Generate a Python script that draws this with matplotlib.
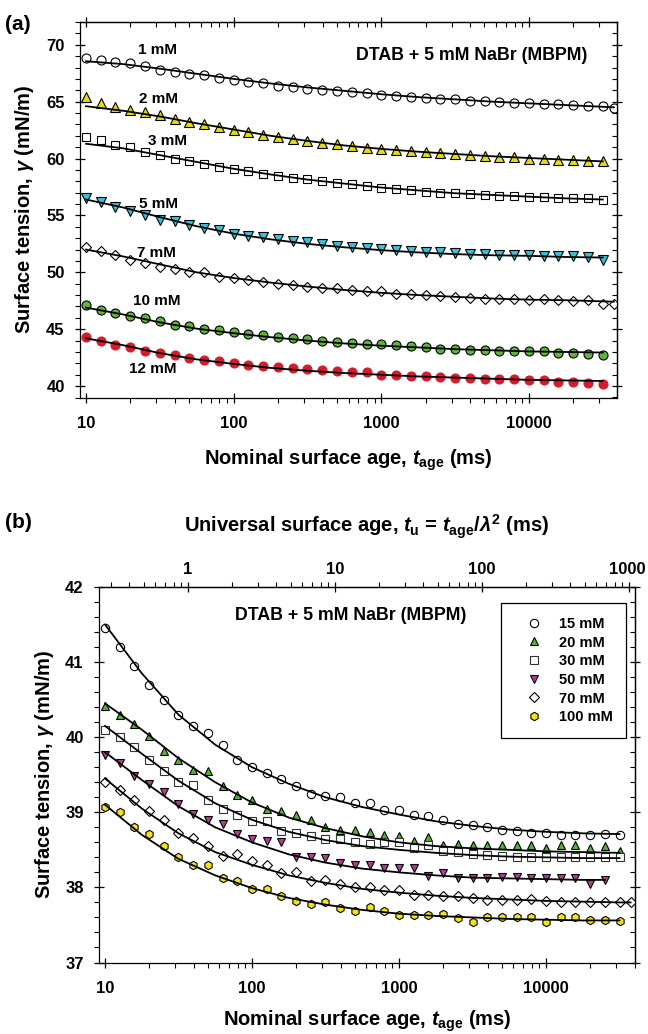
import matplotlib
matplotlib.use('Agg')
import matplotlib.pyplot as plt
from matplotlib.lines import Line2D
from matplotlib.ticker import (FuncFormatter, MultipleLocator, LogLocator,
                               NullFormatter, FixedLocator)

plt.rcParams['font.family'] = ['Liberation Sans', 'DejaVu Sans']
plt.rcParams['font.weight'] = 'bold'
plt.rcParams['mathtext.fontset'] = 'custom'
plt.rcParams['mathtext.rm'] = 'Liberation Sans:bold'
plt.rcParams['mathtext.it'] = 'Liberation Sans:italic:bold'
plt.rcParams['mathtext.bf'] = 'Liberation Sans:bold'
plt.rcParams['axes.linewidth'] = 0.9

# ---------------- data ----------------
t_age = [10, 12.6, 15.8, 20.0, 25.1, 31.6, 39.8, 50.1, 63.1, 79.4,
         100, 126, 158, 200, 251, 316, 398, 501, 631, 794,
         1000, 1259, 1585, 1995, 2512, 3162, 3981, 5012, 6310, 7943,
         10000, 12589, 15849, 19953, 25119, 31623]
t_age_long = t_age + [37600]
t_age_short = t_age[:-1]

fit_t = [10, 17.8, 31.6, 56.2, 100, 178, 316, 562, 1000, 1778, 3162, 5623, 10000, 17783, 31623]
fit_t_long = fit_t + [37600]
fit_t_short = fit_t[:-1] + [25119]

# panel (a): DTAB + 5 mM NaBr, low concentrations
a_labels = ['1 mM', '2 mM', '3 mM', '5 mM', '7 mM', '10 mM', '12 mM']
g_1mM = [68.8, 68.7, 68.5, 68.4, 68.1, 67.8, 67.6, 67.45, 67.3, 67.1,
         66.9, 66.75, 66.6, 66.4, 66.3, 66.1, 66.05, 65.95, 65.85, 65.75,
         65.6, 65.5, 65.45, 65.35, 65.25, 65.2, 65.1, 65.05, 65.0, 64.9,
         64.85, 64.8, 64.75, 64.7, 64.65, 64.6, 64.45]
g_2mM = [65.4, 64.9, 64.55, 64.3, 64.1, 63.8, 63.5, 63.25, 63.0, 62.75,
         62.55, 62.3, 62.1, 61.9, 61.7, 61.55, 61.4, 61.25, 61.1, 60.95,
         60.85, 60.75, 60.65, 60.55, 60.45, 60.4, 60.3, 60.25, 60.15, 60.1,
         60.0, 59.95, 59.9, 59.85, 59.8, 59.75]
g_3mM = [61.9, 61.6, 61.2, 61.0, 60.6, 60.3, 60.0, 59.8, 59.5, 59.3,
         59.1, 58.9, 58.6, 58.5, 58.3, 58.2, 58.0, 57.85, 57.75, 57.6,
         57.45, 57.3, 57.2, 57.1, 57.0, 56.95, 56.85, 56.8, 56.75, 56.7,
         56.65, 56.6, 56.55, 56.5, 56.5, 56.4]
g_5mM = [56.5, 56.2, 55.7, 55.4, 55.0, 54.6, 54.5, 54.2, 53.9, 53.7,
         53.4, 53.2, 53.1, 52.9, 52.75, 52.65, 52.5, 52.35, 52.25, 52.15,
         52.05, 51.95, 51.9, 51.8, 51.75, 51.7, 51.65, 51.6, 51.55, 51.5,
         51.5, 51.45, 51.4, 51.4, 51.35, 51.1]
g_7mM = [52.2, 51.9, 51.5, 51.1, 50.8, 50.5, 50.3, 50.05, 50.0, 49.6,
         49.5, 49.3, 49.15, 49.0, 48.85, 48.75, 48.65, 48.6, 48.45, 48.4,
         48.35, 48.1, 48.1, 48.0, 47.95, 47.85, 47.75, 47.7, 47.65, 47.65,
         47.6, 47.65, 47.55, 47.5, 47.55, 47.2, 47.2]
g_10mM = [47.1, 46.7, 46.45, 46.15, 45.95, 45.7, 45.4, 45.3, 45.0, 44.9,
          44.75, 44.6, 44.5, 44.3, 44.2, 44.1, 43.95, 43.85, 43.8, 43.7,
          43.7, 43.6, 43.5, 43.45, 43.3, 43.3, 43.2, 43.2, 43.1, 43.1,
          43.1, 43.05, 42.95, 42.9, 42.85, 42.75]
g_12mM = [44.3, 44.0, 43.6, 43.4, 43.1, 42.9, 42.7, 42.5, 42.3, 42.2,
          42.0, 41.9, 41.8, 41.7, 41.6, 41.5, 41.4, 41.35, 41.25, 41.2,
          41.0, 40.95, 40.9, 40.85, 40.8, 40.7, 40.7, 40.65, 40.6, 40.6,
          40.5, 40.5, 40.4, 40.4, 40.3, 40.2]

fit_1mM = [68.55, 68.3, 67.9, 67.45, 67.0, 66.6, 66.25, 65.95, 65.65, 65.4, 65.2, 65.0, 64.85, 64.7, 64.55, 64.5]
fit_2mM = [64.6, 64.2, 63.7, 63.1, 62.55, 62.0, 61.55, 61.15, 60.85, 60.6, 60.4, 60.2, 60.05, 59.9, 59.75]
fit_3mM = [61.3, 60.9, 60.3, 59.7, 59.1, 58.6, 58.15, 57.8, 57.45, 57.2, 56.95, 56.8, 56.65, 56.5, 56.4]
fit_5mM = [56.4, 55.7, 54.85, 54.05, 53.4, 52.9, 52.5, 52.2, 51.95, 51.75, 51.6, 51.5, 51.45, 51.35, 51.3]
fit_7mM = [52.0, 51.4, 50.7, 50.0, 49.5, 49.1, 48.75, 48.45, 48.2, 48.0, 47.85, 47.7, 47.6, 47.55, 47.45, 47.42]
fit_10mM = [46.9, 46.3, 45.6, 45.05, 44.65, 44.3, 44.0, 43.75, 43.55, 43.4, 43.25, 43.15, 43.05, 43.0, 42.95]
fit_12mM = [44.2, 43.6, 42.9, 42.35, 41.95, 41.6, 41.35, 41.15, 41.0, 40.85, 40.75, 40.65, 40.55, 40.5, 40.45]

# panel (b): high concentrations
b_labels = ['15 mM', '20 mM', '30 mM', '50 mM', '70 mM', '100 mM']
g_15mM = [41.45, 41.2, 40.95, 40.7, 40.5, 40.3, 40.15, 40.05, 39.9, 39.7,
          39.6, 39.52, 39.45, 39.35, 39.25, 39.22, 39.2, 39.12, 39.12, 39.03,
          39.03, 38.97, 38.95, 38.9, 38.85, 38.83, 38.8, 38.77, 38.75, 38.73,
          38.72, 38.7, 38.7, 38.7, 38.71, 38.7]
g_20mM = [40.41, 40.3, 40.17, 40.01, 39.82, 39.7, 39.56, 39.55, 39.35, 39.23,
          39.17, 39.05, 39.02, 38.96, 38.9, 38.8, 38.76, 38.77, 38.74, 38.7,
          38.68, 38.62, 38.67, 38.57, 38.58, 38.56, 38.57, 38.56, 38.57, 38.57,
          38.53, 38.57, 38.56, 38.53, 38.55, 38.48]
g_30mM = [40.09, 40.0, 39.87, 39.7, 39.55, 39.4, 39.37, 39.17, 39.05, 38.97,
          38.88, 38.88, 38.75, 38.72, 38.68, 38.64, 38.64, 38.6, 38.58, 38.6,
          38.6, 38.53, 38.56, 38.49, 38.47, 38.45, 38.43, 38.42, 38.4, 38.4,
          38.4, 38.4, 38.4, 38.4, 38.4, 38.4]
g_50mM = [39.76, 39.65, 39.49, 39.38, 39.27, 39.11, 38.98, 38.9, 38.84, 38.71,
          38.65, 38.62, 38.6, 38.4, 38.4, 38.39, 38.33, 38.3, 38.3, 38.26,
          38.26, 38.26, 38.15, 38.19, 38.13, 38.13, 38.13, 38.14, 38.14, 38.13,
          38.13, 38.13, 38.13, 38.04, 38.1]
g_70mM = [39.4, 39.3, 39.17, 39.02, 38.9, 38.73, 38.66, 38.55, 38.42, 38.45,
          38.35, 38.3, 38.19, 38.2, 38.08, 38.1, 38.04, 38.0, 38.0, 37.96,
          37.96, 37.9, 37.9, 37.89, 37.89, 37.86, 37.83, 37.83, 37.83, 37.85,
          37.82, 37.81, 37.81, 37.81, 37.8, 37.8, 37.8]
g_100mM = [39.07, 39.0, 38.8, 38.71, 38.55, 38.4, 38.3, 38.3, 38.13, 38.08,
           37.98, 37.98, 37.88, 37.82, 37.78, 37.8, 37.73, 37.69, 37.74, 37.69,
           37.63, 37.63, 37.63, 37.65, 37.59, 37.54, 37.6, 37.6, 37.6, 37.6,
           37.54, 37.61, 37.61, 37.57, 37.57, 37.55]

fit_15mM = [41.5, 40.85, 40.3, 39.9, 39.6, 39.38, 39.2, 39.07, 38.97, 38.88, 38.82, 38.77, 38.74, 38.72, 38.71]
fit_20mM = [40.45, 40.1, 39.72, 39.4, 39.13, 38.93, 38.79, 38.68, 38.6, 38.55, 38.52, 38.5, 38.48, 38.47, 38.46]
fit_30mM = [40.15, 39.78, 39.42, 39.12, 38.9, 38.74, 38.63, 38.55, 38.5, 38.46, 38.43, 38.41, 38.4, 38.39, 38.39]
fit_50mM = [39.8, 39.43, 39.08, 38.8, 38.6, 38.44, 38.33, 38.25, 38.2, 38.16, 38.13, 38.12, 38.11, 38.1, 38.1]
fit_70mM = [39.45, 39.05, 38.72, 38.47, 38.3, 38.16, 38.06, 37.98, 37.93, 37.89, 37.86, 37.84, 37.82, 37.81, 37.8, 37.8]
fit_100mM = [39.1, 38.7, 38.38, 38.16, 37.99, 37.86, 37.77, 37.7, 37.65, 37.62, 37.6, 37.58, 37.57, 37.56, 37.56]

top_ticks_b = [1, 10, 100, 1000]
lambda_sq = 36.6  # t_u = t_age / lambda^2

# ---------------- figure ----------------
W, H = 648, 1034
fig = plt.figure(figsize=(W / 100, H / 100), dpi=100)


def px_axes(l, t, r, b):
    return fig.add_axes([l / W, 1 - b / H, (r - l) / W, (b - t) / H])


fmt = FuncFormatter(lambda v, p: f'{v:g}')
TL = 12
LBL = 14.5


def style_axes(ax, ymaj, ymin):
    ax.set_xscale('log')
    ax.xaxis.set_major_locator(LogLocator(base=10, numticks=10))
    ax.xaxis.set_minor_locator(LogLocator(base=10, subs=range(2, 10), numticks=20))
    ax.xaxis.set_major_formatter(fmt)
    ax.xaxis.set_minor_formatter(NullFormatter())
    ax.yaxis.set_major_locator(MultipleLocator(ymaj))
    ax.yaxis.set_minor_locator(MultipleLocator(ymin))
    ax.tick_params(which='major', direction='inout', length=7, width=0.9,
                   labelsize=TL, top=False, right=False)
    ax.tick_params(axis='x', which='major', pad=9.5)
    ax.tick_params(axis='y', which='major', pad=7.5)
    ax.tick_params(which='minor', direction='out', length=3.5, width=0.8,
                   top=False, right=False)


mk_kw = dict(markeredgewidth=0.8, linestyle='none', zorder=2)
ln_kw = dict(color='black', linewidth=1.3, zorder=3)

# ---- panel (a) ----
axA = px_axes(80, 22, 617, 397.5)
style_axes(axA, 5, 1)
axA.set_xlim(9.1, 39500)
axA.set_ylim(39, 72)

a_series = [
    (t_age_long, g_1mM, fit_t_long, fit_1mM, 'o', 'white', 'black', 6.5),
    (t_age, g_2mM, fit_t, fit_2mM, '^', '#e4dc10', 'black', 6.5),
    (t_age, g_3mM, fit_t, fit_3mM, 's', 'white', 'black', 6.0),
    (t_age, g_5mM, fit_t, fit_5mM, 'v', '#3fbfd6', 'black', 6.5),
    (t_age_long, g_7mM, fit_t_long, fit_7mM, 'D', 'white', 'black', 5.5),
    (t_age, g_10mM, fit_t, fit_10mM, 'o', '#62b23e', 'black', 6.5),
    (t_age, g_12mM, fit_t, fit_12mM, 'o', '#d41c2c', '#d41c2c', 6.5),
]
for x, y, fx, fy, m, fc, ec, ms in a_series:
    axA.plot(x, y, marker=m, markerfacecolor=fc, markeredgecolor=ec, markersize=ms, **mk_kw)
    axA.plot(fx, fy, **ln_kw)

a_label_pos = [(22.5, 69.5), (22.8, 65.2), (26.3, 61.5), (23.0, 56.0), (22.0, 51.7), (20.8, 47.5), (19.5, 41.5)]
for lab, (lx, ly) in zip(a_labels, a_label_pos):
    axA.text(lx, ly, lab, fontsize=11, fontweight='bold', ha='left', va='center', zorder=5)

axA.text(587 / W, 1 - 55 / H, 'DTAB + 5 mM NaBr (MBPM)', transform=fig.transFigure,
         fontsize=12.8, fontweight='bold', ha='right', va='center')
axA.set_xlabel(r'Nominal surface age, $t_{\mathrm{age}}$ (ms)', fontsize=LBL, fontweight='bold', labelpad=12)
axA.set_ylabel(r'Surface tension, $\gamma$ (mN/m)', fontsize=LBL, fontweight='bold', labelpad=7)

# top / right duplicates for panel (a)
axA_top = axA.secondary_xaxis('top', functions=(lambda v: v, lambda v: v))
axA_top.xaxis.set_major_locator(LogLocator(base=10, numticks=10))
axA_top.xaxis.set_minor_locator(LogLocator(base=10, subs=range(2, 10), numticks=20))
axA_top.tick_params(which='major', direction='inout', length=7, width=0.9, labeltop=False)
axA_top.tick_params(which='minor', direction='in', length=3.5, width=0.8)
axA_top.xaxis.set_major_formatter(NullFormatter())
axA_top.xaxis.set_minor_formatter(NullFormatter())
axA_right = axA.secondary_yaxis('right', functions=(lambda v: v, lambda v: v))
axA_right.yaxis.set_major_locator(MultipleLocator(5))
axA_right.yaxis.set_minor_locator(MultipleLocator(1))
axA_right.tick_params(which='major', direction='inout', length=7, width=0.9, labelright=False)
axA_right.tick_params(which='minor', direction='in', length=3.5, width=0.8)

fig.text(5 / W, 1 - 24 / H, '(a)', fontsize=15, fontweight='bold', ha='left', va='center')

# ---- panel (b) ----
axB = px_axes(99, 587, 635, 962.5)
style_axes(axB, 1, 0.2)
axB.set_xlim(9.1, 40300)
axB.set_ylim(37, 42)

b_series = [
    (t_age, g_15mM, fit_t, fit_15mM, 'o', 'white', 'black', 6.0),
    (t_age, g_20mM, fit_t, fit_20mM, '^', '#56b432', 'black', 6.0),
    (t_age, g_30mM, fit_t, fit_30mM, 's', 'white', '#333333', 5.5),
    (t_age_short, g_50mM, fit_t_short, fit_50mM, 'v', '#b23e8e', 'black', 6.0),
    (t_age_long, g_70mM, fit_t_long, fit_70mM, 'D', 'white', 'black', 5.0),
    (t_age, g_100mM, fit_t, fit_100mM, 'h', '#f2e418', 'black', 6.0),
]
handles = []
for (x, y, fx, fy, m, fc, ec, ms), lab in zip(b_series, b_labels):
    axB.plot(x, y, marker=m, markerfacecolor=fc, markeredgecolor=ec, markersize=ms, **mk_kw)
    axB.plot(fx, fy, **ln_kw)
    handles.append(Line2D([], [], marker=m, markerfacecolor=fc, markeredgecolor=ec,
                          markersize=ms, markeredgewidth=0.8, linestyle='none', label=lab))

leg = axB.legend(handles=handles, loc='upper left',
                 bbox_to_anchor=((501 - 99) / (635 - 99), 1 - (603 - 587) / 375.5),
                 frameon=True, fancybox=False, edgecolor='black', framealpha=1,
                 prop={'size': 10.5, 'weight': 'bold'}, handlelength=2.6, handletextpad=0.4,
                 labelspacing=0.32, borderpad=0.95, borderaxespad=0)
leg.get_frame().set_linewidth(0.9)

axB.text(235 / W, 1 - 616 / H, 'DTAB + 5 mM NaBr (MBPM)', transform=fig.transFigure,
         fontsize=12.8, fontweight='bold', ha='left', va='center')
axB.set_xlabel(r'Nominal surface age, $t_{\mathrm{age}}$ (ms)', fontsize=LBL, fontweight='bold', labelpad=9)
axB.set_ylabel(r'Surface tension, $\gamma$ (mN/m)', fontsize=LBL, fontweight='bold', labelpad=7)

axB_top = axB.secondary_xaxis('top', functions=(lambda v: v / lambda_sq, lambda v: v * lambda_sq))
axB_top.xaxis.set_major_locator(FixedLocator(top_ticks_b))
axB_top.xaxis.set_minor_locator(LogLocator(base=10, subs=range(2, 10), numticks=20))
axB_top.xaxis.set_major_formatter(FuncFormatter(lambda v, p: '' if v >= 1000 else f'{v:g}'))
axB_top.xaxis.set_minor_formatter(NullFormatter())
axB_top.tick_params(which='major', direction='inout', length=7, width=0.9, labelsize=TL, pad=4)
axB_top.tick_params(which='minor', direction='out', length=3.5, width=0.8)
axB_top.set_xlabel(r'Universal surface age, $t_{\mathrm{u}}$ = $t_{\mathrm{age}}$/$\lambda^{2}$ (ms)',
                   fontsize=LBL, fontweight='bold', labelpad=21)
# last top tick label sits at the very right edge of the figure
fig.text(646 / W, 1 - 569.5 / H, f'{top_ticks_b[-1]:g}', fontsize=TL, fontweight='bold',
         ha='right', va='center')
axB_right = axB.secondary_yaxis('right', functions=(lambda v: v, lambda v: v))
axB_right.yaxis.set_major_locator(MultipleLocator(1))
axB_right.yaxis.set_minor_locator(MultipleLocator(0.2))
axB_right.tick_params(which='major', direction='inout', length=7, width=0.9, labelright=False)
axB_right.tick_params(which='minor', direction='in', length=3.5, width=0.8)

fig.text(5 / W, 1 - 523 / H, '(b)', fontsize=15, fontweight='bold', ha='left', va='center')

fig.savefig('out.png', dpi=100)
